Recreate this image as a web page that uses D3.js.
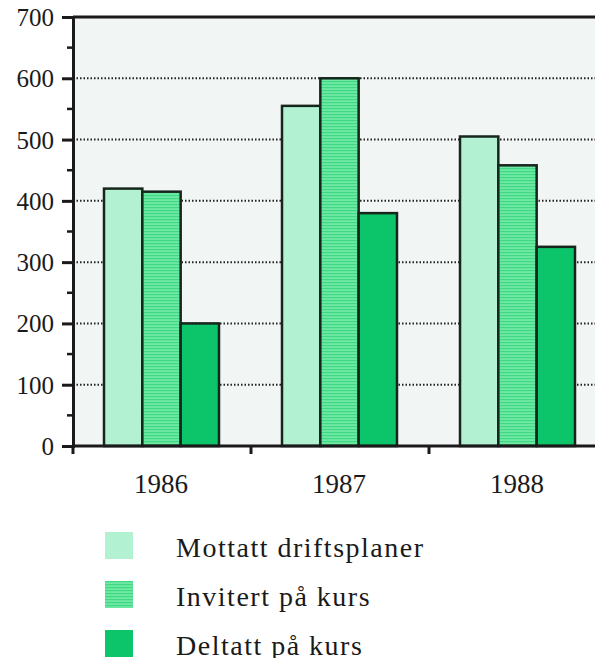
<!DOCTYPE html>
<html>
<head>
<meta charset="utf-8">
<script src="https://cdn.jsdelivr.net/npm/d3@7"></script>
<style>
  html, body { margin: 0; padding: 0; background: #fff; }
  svg { display: block; }
  text { font-family: "Liberation Serif", "DejaVu Serif", serif; fill: #1a1a1a; }
</style>
</head>
<body>
<svg width="595" height="658"></svg>
<script>
// data
const years = ["1986", "1987", "1988"];
const series = ["Mottatt driftsplaner", "Invitert på kurs", "Deltatt på kurs"];
const mottatt = [420, 555, 505];
const invitert = [415, 600, 458];
const deltatt = [200, 380, 325];
const yTicks = [0, 100, 200, 300, 400, 500, 600, 700];

const colors = ["#b2f1d2", "#4fe28f", "#0cc469"];

const svg = d3.select("svg");
const plotLeft = 73, plotTop = 17, plotBottom = 446, plotRight = 595;
const groupW = 178;

const x = d3.scaleBand().domain(years).range([plotLeft, plotLeft + groupW * years.length]).padding(0);
const xs = d3.scaleBand().domain(series).range([31, 146]).padding(0);
const y = d3.scaleLinear().domain([0, 700]).range([plotBottom, plotTop]);

// stripe pattern for the middle series
const defs = svg.append("defs");
const pat = defs.append("pattern")
  .attr("id", "stripes")
  .attr("patternUnits", "userSpaceOnUse")
  .attr("width", 4).attr("height", 3);
pat.append("rect").attr("width", 4).attr("height", 3).attr("fill", "#6fe8a5");
pat.append("rect").attr("width", 4).attr("height", 1.2).attr("fill", "#3fd983");

// plot background
svg.append("rect")
  .attr("x", plotLeft).attr("y", plotTop)
  .attr("width", plotRight - plotLeft).attr("height", plotBottom - plotTop)
  .attr("fill", "#f1f5f3");

// dotted gridlines
svg.append("g")
  .selectAll("line")
  .data(yTicks.filter(d => d > 0 && d < 700))
  .join("line")
    .attr("x1", plotLeft).attr("x2", plotRight)
    .attr("y1", d => y(d)).attr("y2", d => y(d))
    .attr("stroke", "#222")
    .attr("stroke-width", 2)
    .attr("stroke-dasharray", "1.5,2");

// bars
const rows = years.map((yr, i) => ({ year: yr, values: [mottatt[i], invitert[i], deltatt[i]] }));
const fills = [colors[0], "url(#stripes)", colors[2]];

svg.append("g")
  .selectAll("g")
  .data(rows)
  .join("g")
    .attr("transform", d => `translate(${x(d.year)},0)`)
  .selectAll("rect")
  .data(d => d.values.map((v, j) => ({ s: series[j], v: v, j: j })))
  .join("rect")
    .attr("x", d => xs(d.s))
    .attr("y", d => y(d.v))
    .attr("width", xs.bandwidth())
    .attr("height", d => plotBottom - y(d.v))
    .attr("fill", d => fills[d.j])
    .attr("stroke", "#16261d")
    .attr("stroke-width", 2.5);

// top frame line
svg.append("line")
  .attr("x1", plotLeft).attr("x2", plotRight)
  .attr("y1", plotTop).attr("y2", plotTop)
  .attr("stroke", "#1a1a1a").attr("stroke-width", 3);

// y axis
const yAxis = d3.axisLeft(y).tickValues(yTicks).tickSize(11).tickPadding(8);
const gy = svg.append("g").attr("transform", `translate(${plotLeft},0)`).call(yAxis);
gy.select(".domain").attr("stroke", "#1a1a1a").attr("stroke-width", 3);
gy.selectAll(".tick line").attr("stroke", "#1a1a1a").attr("stroke-width", 3);
gy.selectAll(".tick text").style("font-size", "25px").attr("dy", "0.34em");

// minor ticks
svg.append("g")
  .selectAll("line")
  .data(d3.range(50, 700, 100))
  .join("line")
    .attr("x1", plotLeft - 6).attr("x2", plotLeft)
    .attr("y1", d => y(d)).attr("y2", d => y(d))
    .attr("stroke", "#1a1a1a").attr("stroke-width", 2.5);

// x axis
svg.append("line")
  .attr("x1", plotLeft).attr("x2", plotRight)
  .attr("y1", plotBottom).attr("y2", plotBottom)
  .attr("stroke", "#1a1a1a").attr("stroke-width", 3);

svg.append("g")
  .selectAll("line")
  .data(years.map(yr => x(yr)))
  .join("line")
    .attr("x1", d => d).attr("x2", d => d)
    .attr("y1", plotBottom).attr("y2", plotBottom + 8)
    .attr("stroke", "#1a1a1a").attr("stroke-width", 3);

svg.append("g")
  .selectAll("text")
  .data(years)
  .join("text")
    .attr("x", d => x(d) + x.bandwidth() / 2 - 1)
    .attr("y", 493)
    .attr("text-anchor", "middle")
    .style("font-size", "27px")
    .text(d => d);

// legend
const legend = svg.append("g")
  .selectAll("g")
  .data(series)
  .join("g")
    .attr("transform", (d, i) => `translate(105,${532 + i * 49})`);

legend.append("rect")
  .attr("width", 28).attr("height", 27)
  .attr("fill", (d, i) => fills[i]);

legend.append("text")
  .attr("x", 71).attr("y", 25)
  .style("font-size", "28px")
  .style("letter-spacing", "1.5px")
  .text(d => d);
</script>
</body>
</html>
